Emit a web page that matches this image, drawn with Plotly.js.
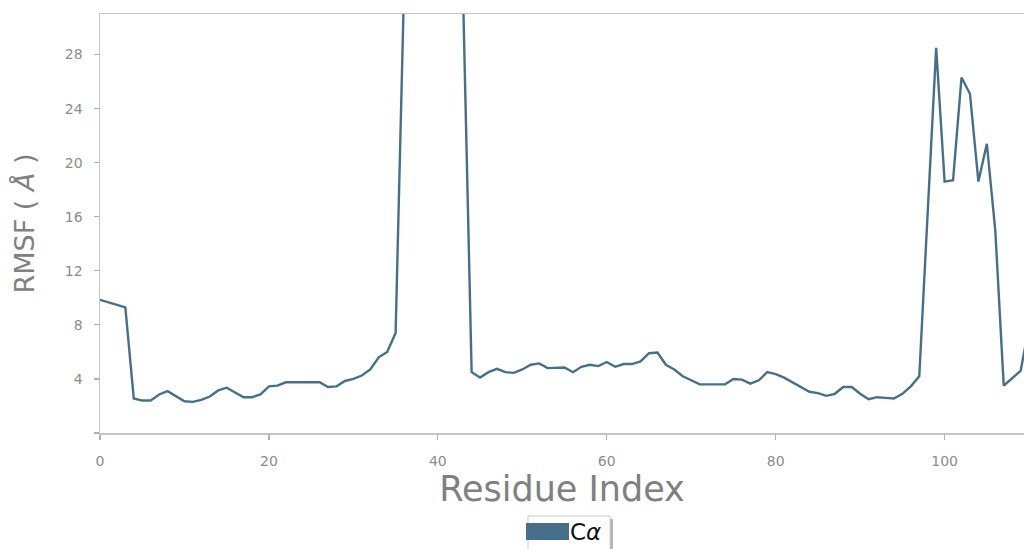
<!DOCTYPE html>
<html>
<head>
<meta charset="utf-8">
<script src="https://cdn.plot.ly/plotly-3.0.1.min.js"></script>
<style>html,body{margin:0;padding:0;background:#fff;}#chart{width:1024px;height:549px;}</style>
</head>
<body>
<div id="chart"></div>
<script>
// Residue indices
const residues = [
  0,1,2,3,4,5,6,7,8,9,10,11,12,13,14,15,16,17,18,19,
  20,21,22,23,24,25,26,27,28,29,30,31,32,33,34,35,36,37,38,39,
  40,41,42,43,44,45,46,47,48,49,50,51,52,53,54,55,56,57,58,59,
  60,61,62,63,64,65,66,67,68,69,70,71,72,73,74,75,76,77,78,79,
  80,81,82,83,84,85,86,87,88,89,90,91,92,93,94,95,96,97,98,99,
  100,101,102,103,104,105,106,107,108,109,110
];
// C-alpha RMSF (Angstrom)
const rmsfCA = [
  9.85,9.65,9.45,9.3,2.55,2.4,2.4,2.85,3.1,2.7,
  2.35,2.3,2.45,2.7,3.15,3.35,3.0,2.65,2.65,2.85,
  3.45,3.5,3.75,3.75,3.75,3.75,3.75,3.4,3.45,3.85,
  4.0,4.25,4.7,5.6,6.0,7.4,33,48,62,70,
  66,55,41,32,4.5,4.1,4.5,4.75,4.5,4.45,
  4.7,5.05,5.15,4.8,4.85,4.85,4.5,4.9,5.05,4.95,
  5.25,4.9,5.1,5.1,5.3,5.9,5.95,5.05,4.7,4.2,
  3.9,3.6,3.6,3.6,3.6,4.0,3.95,3.65,3.9,4.5,
  4.35,4.1,3.75,3.4,3.05,2.95,2.75,2.9,3.4,3.4,
  2.9,2.5,2.65,2.6,2.55,2.9,3.45,4.2,16.3,28.5,
  18.6,18.7,26.3,25.1,18.6,21.4,15.0,3.5,4.05,4.6,7.9
];
const seriesName = "C\u03b1";
const xTickVals = [0,20,40,60,80,100];
const yTickVals = [0,4,8,12,16,20,24,28];
const yTickText = ["","4","8","12","16","20","24","28"];

const lineColor = "#46708a";
const spine = "#c4c4c4";
const tickColor = "#8c8c8c";

const trace = {
  x: residues, y: rmsfCA, type: "scatter", mode: "lines",
  name: seriesName, showlegend: false,
  line: {color: lineColor, width: 2.4}
};

// legend drawn as shapes in paper coordinates (plot area: px 100..1024 x 14..433)
function px2x(p){ return (p-100)/924; }
function px2y(p){ return (433-p)/419; }

const layout = {
  width: 1024, height: 549,
  margin: {l:100, r:0, t:14, b:116, pad:0},
  paper_bgcolor: "#ffffff", plot_bgcolor: "#ffffff",
  font: {family: "DejaVu Sans", color: tickColor},
  showlegend: false,
  xaxis: {
    range: [0, 109.4], tickvals: xTickVals, ticks: "outside", ticklen: 5, tickwidth: 1.2, tickcolor: "#b0b0b0",
    showline: true, linecolor: spine, linewidth: 1.5, mirror: true,
    showgrid: false, zeroline: false, tickfont: {size: 14, color: tickColor},
    ticklabelstandoff: 10,
    automargin: false,
    title: {text: "Residue Index", font: {size: 35, color: "#808080", family: "DejaVu Sans"}, standoff: 8}
  },
  yaxis: {
    range: [0, 31], tickvals: yTickVals, ticktext: yTickText, ticks: "outside", ticklen: 5, tickwidth: 1.2, tickcolor: "#b0b0b0",
    showline: true, linecolor: spine, linewidth: 1.5, mirror: false,
    showgrid: false, zeroline: false, tickfont: {size: 14, color: tickColor},
    ticklabelstandoff: 8,
    automargin: false,
    title: {text: "RMSF ( <i>Å</i> )", font: {size: 27, color: "#808080", family: "DejaVu Sans"}, standoff: 22}
  },
  shapes: [
    {type:"rect", xref:"paper", yref:"paper", x0:px2x(531), x1:px2x(613), y0:px2y(519), y1:px2y(560),
     line:{width:0}, fillcolor:"rgba(120,120,120,0.55)", layer:"above"},
    {type:"rect", xref:"paper", yref:"paper", x0:px2x(528), x1:px2x(610), y0:px2y(516), y1:px2y(557),
     line:{width:1, color:"#cccccc"}, fillcolor:"#ffffff", layer:"above"},
    {type:"rect", xref:"paper", yref:"paper", x0:px2x(526), x1:px2x(569), y0:px2y(523), y1:px2y(540),
     line:{width:0}, fillcolor:lineColor, layer:"above"}
  ],
  annotations: [
    {xref:"paper", yref:"paper", x:px2x(585), y:px2y(532), text:"C<i>\u03b1</i>", showarrow:false,
     xanchor:"center", yanchor:"middle", font:{size:23, color:"#111111", family:"DejaVu Sans"}}
  ]
};

Plotly.newPlot("chart", [trace], layout, {displayModeBar: false, staticPlot: true});
</script>
</body>
</html>
